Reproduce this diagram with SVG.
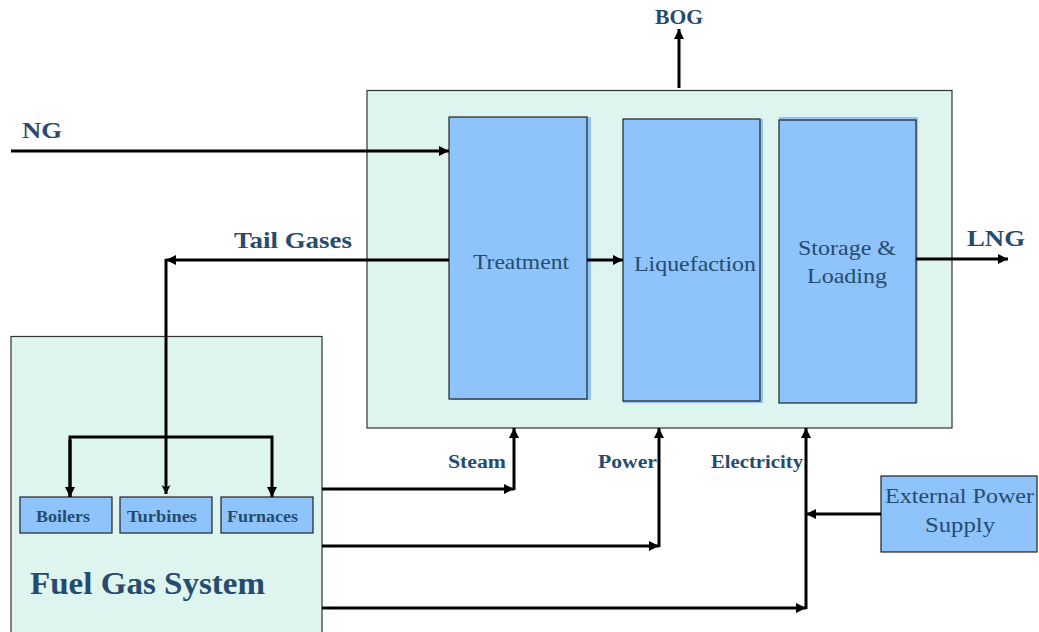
<svg xmlns="http://www.w3.org/2000/svg" width="1039" height="632" viewBox="0 0 1039 632">
<defs>
<marker id="ah" viewBox="0 0 10 10" refX="10" refY="5" markerWidth="11" markerHeight="10" markerUnits="userSpaceOnUse" orient="auto">
<path d="M0,0 L10,5 L0,10 Z" fill="#000"/>
</marker>
<marker id="ahn" viewBox="0 0 10 10" refX="10" refY="5" markerWidth="18" markerHeight="9" markerUnits="userSpaceOnUse" orient="auto">
<path d="M0,0 L10,5 L0,10 L3,5 Z" fill="#000"/>
</marker>
</defs>
<style>
.panel{fill:#ddf4ef;stroke:#333;stroke-width:1.2}
.blk{fill:#8ec4fb;stroke:#222;stroke-width:1.2}
.shadow{fill:#8ec4fb}
.t{font-family:"Liberation Serif","Times New Roman",serif;fill:#264b6f}
.b{font-weight:bold}
.c{fill:none;stroke:#000;stroke-width:3}
</style>
<g id="plant">
<rect class="panel" x="367" y="90.5" width="585" height="337.5"/>
</g>
<g id="fuel-gas-system">
<rect class="panel" x="11" y="336.5" width="311" height="300"/>
<text class="t b" x="30" y="594" font-size="31" textLength="235" lengthAdjust="spacingAndGlyphs">Fuel Gas System</text>
</g>
<g id="treatment">
<rect class="shadow" x="452" y="117" width="139" height="283"/>
<rect class="blk" x="449" y="117" width="138" height="282"/>
<text class="t" x="473" y="269" font-size="21" textLength="96" lengthAdjust="spacingAndGlyphs">Treatment</text>
</g>
<g id="liquefaction">
<rect class="shadow" x="623" y="119" width="140" height="284"/>
<rect class="blk" x="623" y="119" width="137" height="282"/>
<text class="t" x="634" y="271" font-size="21" textLength="122" lengthAdjust="spacingAndGlyphs">Liquefaction</text>
</g>
<g id="storage-loading">
<rect class="shadow" x="779" y="117" width="139" height="286"/>
<rect class="blk" x="779" y="120" width="137" height="283"/>
<text class="t" x="798" y="255" font-size="21" textLength="98" lengthAdjust="spacingAndGlyphs">Storage &amp;</text>
<text class="t" x="807" y="283" font-size="21" textLength="80" lengthAdjust="spacingAndGlyphs">Loading</text>
</g>
<g id="boilers">
<rect class="blk" x="20" y="497" width="92" height="36"/>
<text class="t b" x="36" y="522" font-size="16" textLength="54" lengthAdjust="spacingAndGlyphs">Boilers</text>
</g>
<g id="turbines">
<rect class="blk" x="120" y="497" width="92" height="36"/>
<text class="t b" x="127" y="522" font-size="16" textLength="70" lengthAdjust="spacingAndGlyphs">Turbines</text>
</g>
<g id="furnaces">
<rect class="blk" x="221" y="497" width="92" height="36"/>
<text class="t b" x="227" y="522" font-size="16" textLength="71" lengthAdjust="spacingAndGlyphs">Furnaces</text>
</g>
<g id="external-power-supply">
<rect class="blk" x="881" y="476" width="156" height="76"/>
<text class="t" x="885" y="503" font-size="21" textLength="149" lengthAdjust="spacingAndGlyphs">External Power</text>
<text class="t" x="925" y="532" font-size="21" textLength="70" lengthAdjust="spacingAndGlyphs">Supply</text>
</g>
<g id="connectors">
<line class="c" x1="11" y1="151" x2="449" y2="151" marker-end="url(#ah)"/>
<line class="c" x1="449" y1="260" x2="166" y2="260" marker-end="url(#ah)"/>
<line class="c" x1="166" y1="259" x2="166" y2="494" marker-end="url(#ahn)"/>
<polyline class="c" points="70,497 70,437 272,437 272,497" marker-end="url(#ah)"/>
<line class="c" x1="70" y1="440" x2="70" y2="497" marker-end="url(#ah)"/>
<line class="c" x1="587" y1="260" x2="623" y2="260" marker-end="url(#ah)"/>
<line class="c" x1="916" y1="259" x2="1008" y2="259" marker-end="url(#ah)"/>
<line class="c" x1="679" y1="88" x2="679" y2="29" marker-end="url(#ah)"/>
<line class="c" x1="322" y1="489" x2="514" y2="489" marker-end="url(#ah)"/>
<line class="c" x1="514" y1="490" x2="514" y2="428" marker-end="url(#ah)"/>
<line class="c" x1="322" y1="546" x2="659" y2="546" marker-end="url(#ah)"/>
<line class="c" x1="659" y1="547" x2="659" y2="428" marker-end="url(#ah)"/>
<line class="c" x1="322" y1="608" x2="806" y2="608" marker-end="url(#ah)"/>
<line class="c" x1="806" y1="609" x2="806" y2="428" marker-end="url(#ah)"/>
<line class="c" x1="881" y1="514" x2="806" y2="514" marker-end="url(#ah)"/>
</g>
<g id="labels">
<text class="t b" x="22" y="138" font-size="24" textLength="40" lengthAdjust="spacingAndGlyphs">NG</text>
<text class="t b" x="234" y="248" font-size="24" textLength="118" lengthAdjust="spacingAndGlyphs">Tail Gases</text>
<text class="t b" x="655" y="24" font-size="21" textLength="48" lengthAdjust="spacingAndGlyphs">BOG</text>
<text class="t b" x="967" y="246" font-size="24" textLength="58" lengthAdjust="spacingAndGlyphs">LNG</text>
<text class="t b" x="448" y="468" font-size="18" textLength="58" lengthAdjust="spacingAndGlyphs">Steam</text>
<text class="t b" x="598" y="468" font-size="18" textLength="59" lengthAdjust="spacingAndGlyphs">Power</text>
<text class="t b" x="711" y="468" font-size="18" textLength="92" lengthAdjust="spacingAndGlyphs">Electricity</text>
</g>
</svg>
